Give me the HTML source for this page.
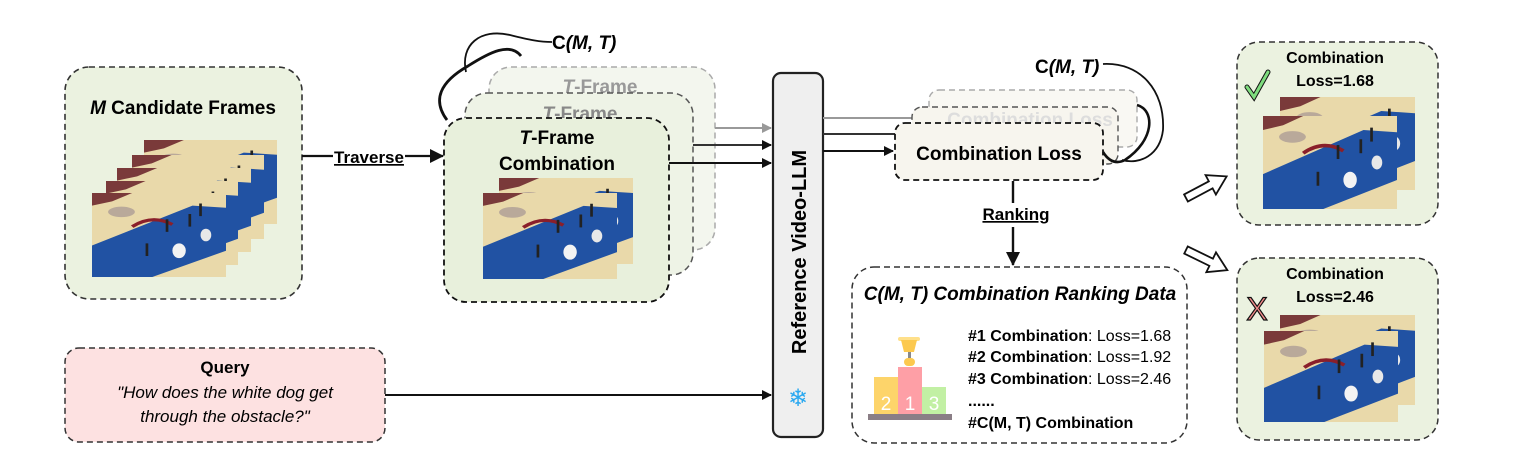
<!DOCTYPE html>
<html><head><meta charset="utf-8"><style>
html,body{margin:0;padding:0;background:#fff;}
svg{display:block;font-family:"Liberation Sans",sans-serif;}
.b{font-weight:bold;}
</style></head><body>
<svg width="1522" height="469" viewBox="0 0 1522 469" xmlns="http://www.w3.org/2000/svg">
<defs>
<symbol id="ph" viewBox="0 0 100 80" preserveAspectRatio="none">
<rect width="100" height="80" fill="#e9d9aa"/>
<path d="M0 0 L30 0 L15 8 L0 12 Z" fill="#7a3a3a"/>
<path d="M0 50 L75 12 L100 14 L100 55 L45 80 L0 80 Z" fill="#2152a3"/>
<path d="M30 32 Q45 20 60 30" stroke="#8a1f2a" stroke-width="3" fill="none"/>
<ellipse cx="22" cy="18" rx="10" ry="5" fill="#8a7a8a" opacity="0.5"/>
<rect x="55" y="25" width="2" height="12" fill="#222"/>
<rect x="72" y="20" width="2" height="12" fill="#222"/>
<rect x="40" y="48" width="2" height="12" fill="#222"/>
<ellipse cx="65" cy="55" rx="5" ry="7" fill="#f3f3f3"/>
<ellipse cx="85" cy="40" rx="4" ry="6" fill="#e8e8e8"/>
<rect x="80" y="10" width="2" height="12" fill="#222"/>
</symbol>
<marker id="ah" markerWidth="10" markerHeight="10" refX="9" refY="5" orient="auto" markerUnits="userSpaceOnUse"><path d="M0 0 L10 5 L0 10 Z" fill="#111"/></marker>
<marker id="ahg" markerWidth="10" markerHeight="10" refX="9" refY="5" orient="auto" markerUnits="userSpaceOnUse"><path d="M0 0 L10 5 L0 10 Z" fill="#999"/></marker>
<marker id="ahb" markerWidth="14" markerHeight="14" refX="13" refY="7" orient="auto" markerUnits="userSpaceOnUse"><path d="M0 0 L14 7 L0 14 Z" fill="#111"/></marker>
</defs>

<rect x="65" y="67" width="237" height="232" rx="24" fill="#ebf2e0" stroke="#333" stroke-width="1.6" stroke-dasharray="6,4"/>
<text x="183" y="114" text-anchor="middle" font-size="19" class="b"><tspan font-style="italic">M</tspan>  Candidate Frames</text>
<use href="#ph" x="144" y="140" width="133" height="84"/>
<use href="#ph" x="132" y="155" width="132" height="84"/>
<use href="#ph" x="117" y="168" width="134" height="84"/>
<use href="#ph" x="106" y="181" width="132" height="84"/>
<use href="#ph" x="92" y="193" width="134" height="84"/>

<line x1="302" y1="156" x2="333" y2="156" stroke="#111" stroke-width="2.2"/>
<text x="369" y="163" text-anchor="middle" font-size="17" class="b" text-decoration="underline">Traverse</text>
<line x1="405" y1="156" x2="443" y2="156" stroke="#111" stroke-width="2.2" marker-end="url(#ahb)"/>

<path d="M447 120 C432 100 440 82 468 66 C490 52 510 42 521 56" stroke="#111" stroke-width="2.8" fill="none"/>
<path d="M466 72 C460 45 480 28 510 35 C530 40 540 42 552 42" stroke="#111" stroke-width="1.8" fill="none"/>
<text x="552" y="49" font-size="19" class="b">C<tspan font-style="italic">(M, T)</tspan></text>

<rect x="489" y="67" width="226" height="183" rx="22" fill="#f3f6ee" stroke="#aaa" stroke-width="1.5" stroke-dasharray="6,4"/>
<text x="600" y="93" text-anchor="middle" font-size="19" class="b" fill="#999"><tspan font-style="italic">T</tspan>-Frame</text>
<rect x="465" y="93" width="228" height="182" rx="22" fill="#eef3e6" stroke="#555" stroke-width="1.5" stroke-dasharray="6,4"/>
<text x="580" y="120" text-anchor="middle" font-size="19" class="b" fill="#888"><tspan font-style="italic">T</tspan>-Frame</text>
<rect x="444" y="118" width="225" height="184" rx="22" fill="#e8f0dc" stroke="#111" stroke-width="1.8" stroke-dasharray="6,4"/>
<text x="557" y="144" text-anchor="middle" font-size="19" class="b"><tspan font-style="italic">T</tspan>-Frame</text>
<text x="557" y="170" text-anchor="middle" font-size="19" class="b">Combination</text>
<use href="#ph" x="499" y="178" width="134" height="86"/>
<use href="#ph" x="483" y="193" width="134" height="86"/>

<line x1="715" y1="128" x2="771" y2="128" stroke="#999" stroke-width="2" marker-end="url(#ahg)"/>
<line x1="693" y1="145" x2="771" y2="145" stroke="#333" stroke-width="2" marker-end="url(#ah)"/>
<line x1="669" y1="163" x2="771" y2="163" stroke="#111" stroke-width="2" marker-end="url(#ah)"/>

<rect x="65" y="348" width="320" height="94" rx="14" fill="#fde1e1" stroke="#333" stroke-width="1.5" stroke-dasharray="6,4"/>
<text x="225" y="373" text-anchor="middle" font-size="17" class="b">Query</text>
<text x="225" y="398" text-anchor="middle" font-size="17" font-style="italic">"How does the white dog get</text>
<text x="225" y="422" text-anchor="middle" font-size="17" font-style="italic">through the obstacle?"</text>
<line x1="385" y1="395" x2="771" y2="395" stroke="#111" stroke-width="2" marker-end="url(#ah)"/>

<rect x="773" y="73" width="50" height="364" rx="8" fill="#efefef" stroke="#222" stroke-width="2.2"/>
<text transform="translate(806,252) rotate(-90)" text-anchor="middle" font-size="20" class="b">Reference Video-LLM</text>
<text x="798" y="406" text-anchor="middle" font-size="24" fill="#29a8f0">❄</text>

<line x1="823" y1="118" x2="927" y2="118" stroke="#999" stroke-width="2" marker-end="url(#ahg)"/>
<line x1="823" y1="134" x2="895" y2="134" stroke="#333" stroke-width="2"/>
<line x1="823" y1="151" x2="893" y2="151" stroke="#111" stroke-width="2" marker-end="url(#ah)"/>
<rect x="929" y="90" width="208" height="57" rx="10" fill="#f9f8f3" stroke="#aaa" stroke-width="1.4" stroke-dasharray="6,4"/>
<rect x="912" y="107" width="206" height="57" rx="10" fill="#f7f5ee" stroke="#555" stroke-width="1.4" stroke-dasharray="6,4"/>
<text x="1030" y="126" text-anchor="middle" font-size="19" class="b" fill="#ddd">Combination Loss</text>
<rect x="895" y="123" width="208" height="57" rx="10" fill="#f7f5ee" stroke="#111" stroke-width="1.8" stroke-dasharray="6,4"/>
<text x="999" y="160" text-anchor="middle" font-size="19" class="b">Combination Loss</text>
<text x="1035" y="73" font-size="19" class="b">C<tspan font-style="italic">(M, T)</tspan></text>
<path d="M1103 64 C1140 62 1165 90 1163 130 C1160 155 1140 165 1122 160" stroke="#111" stroke-width="1.8" fill="none"/>
<path d="M1137 105 C1155 110 1155 140 1125 160 C1115 165 1108 160 1103 152" stroke="#111" stroke-width="2.6" fill="none"/>

<line x1="1013" y1="181" x2="1013" y2="203" stroke="#111" stroke-width="2.4"/>
<text x="1016" y="220" text-anchor="middle" font-size="17" class="b" text-decoration="underline">Ranking</text>
<line x1="1013" y1="227" x2="1013" y2="265" stroke="#111" stroke-width="2.4" marker-end="url(#ahb)"/>
<rect x="852" y="267" width="335" height="176" rx="22" fill="#fff" stroke="#333" stroke-width="1.5" stroke-dasharray="6,4"/>
<text x="1020" y="300" text-anchor="middle" font-size="19" class="b" font-style="italic">C(M, T) Combination Ranking Data</text>
<g font-size="16">
<text x="968" y="341"><tspan class="b">#1 Combination</tspan>: Loss=1.68</text>
<text x="968" y="362"><tspan class="b">#2 Combination</tspan>: Loss=1.92</text>
<text x="968" y="384"><tspan class="b">#3 Combination</tspan>: Loss=2.46</text>
<text x="968" y="406" class="b">......</text>
<text x="968" y="428" class="b">#C(M, T) Combination</text>
</g>
<rect x="898" y="337" width="22" height="4" rx="2" fill="#ffe08a"/>
<path d="M901 340 L917 340 L914 352 L904 352 Z" fill="#fcc94f"/>
<rect x="908" y="352" width="3" height="6" fill="#888"/>
<rect x="904" y="358" width="11" height="8" rx="4" fill="#fcc94f"/>
<rect x="874" y="377" width="24" height="38" fill="#fdd46a"/>
<rect x="898" y="367" width="24" height="48" fill="#fe9fa6"/>
<rect x="922" y="387" width="24" height="28" fill="#c2f0a4"/>
<text x="886" y="410" text-anchor="middle" font-size="19" fill="#fff">2</text>
<text x="910" y="410" text-anchor="middle" font-size="19" fill="#fff">1</text>
<text x="934" y="410" text-anchor="middle" font-size="19" fill="#fff">3</text>
<rect x="868" y="414" width="84" height="6" fill="#8a7e86"/>

<g transform="translate(1186,198) rotate(-28)">
<path d="M0 -4 L28 -4 L28 -11 L46 0 L28 11 L28 4 L0 4 Z" fill="#fff" stroke="#111" stroke-width="1.8"/>
</g>
<g transform="translate(1186,250) rotate(26)">
<path d="M0 -4 L28 -4 L28 -11 L46 0 L28 11 L28 4 L0 4 Z" fill="#fff" stroke="#111" stroke-width="1.8"/>
</g>

<rect x="1237" y="42" width="201" height="183" rx="22" fill="#ebf2e0" stroke="#333" stroke-width="1.5" stroke-dasharray="6,4"/>
<text x="1335" y="63" text-anchor="middle" font-size="16" class="b">Combination</text>
<text x="1335" y="86" text-anchor="middle" font-size="16" class="b">Loss=1.68</text>
<path d="M1247 87 L1254 97 L1268 72" stroke="#111" stroke-width="5" fill="none" stroke-linecap="round"/>
<path d="M1247 87 L1254 97 L1268 72" stroke="#7edc7e" stroke-width="3" fill="none" stroke-linecap="round"/>
<use href="#ph" x="1280" y="97" width="135" height="93"/>
<use href="#ph" x="1263" y="116" width="134" height="93"/>

<rect x="1237" y="258" width="201" height="182" rx="22" fill="#ebf2e0" stroke="#333" stroke-width="1.5" stroke-dasharray="6,4"/>
<text x="1335" y="279" text-anchor="middle" font-size="16" class="b">Combination</text>
<text x="1335" y="302" text-anchor="middle" font-size="16" class="b">Loss=2.46</text>
<text x="1257" y="320" text-anchor="middle" font-size="32" fill="#f28b8b" stroke="#111" stroke-width="1.2">X</text>
<use href="#ph" x="1280" y="315" width="135" height="90"/>
<use href="#ph" x="1264" y="331" width="134" height="91"/>
</svg>
</body></html>
